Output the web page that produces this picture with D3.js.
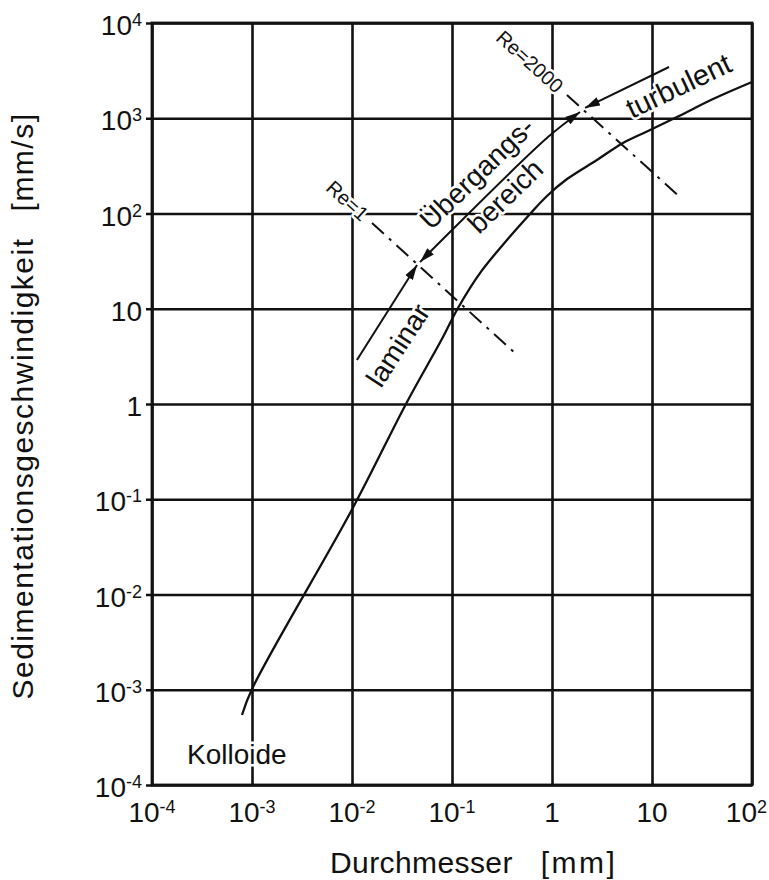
<!DOCTYPE html>
<html><head><meta charset="utf-8">
<script src="https://cdn.jsdelivr.net/npm/d3@7"></script>
<style>body{margin:0;background:#fff} svg{display:block} text{font-family:"Liberation Sans",Arial,Helvetica,sans-serif;fill:#111}</style>
</head><body>
<svg id="c" width="769" height="880"></svg>
<script>
// ---- data ----
const xTicks = [1e-4, 1e-3, 1e-2, 1e-1, 1, 10, 100];
const xTickBase = ["10", "10", "10", "10", "1", "10", "10"];
const xTickExp  = ["-4", "-3", "-2", "-1", "", "", "2"];
const yTicks = [1e-4, 1e-3, 1e-2, 1e-1, 1, 10, 100, 1e3, 1e4];
const yTickBase = ["10", "10", "10", "10", "1", "10", "10", "10", "10"];
const yTickExp  = ["-4", "-3", "-2", "-1", "", "", "2", "3", "4"];

// settling velocity curve: diameter [mm], velocity [mm/s]
const curveDiameter = [0.000794, 0.001, 0.01, 0.0355, 0.0813, 0.1148, 0.1905, 0.3548, 0.6026, 0.8913, 1.413, 2.818, 5.129, 9.12, 17.78, 40.74, 100];
const curveVelocity = [0.000543, 0.00102, 0.078, 1.05, 5.05, 10.19, 23.7, 52.7, 98.9, 152.8, 230, 365, 550, 735, 1030, 1592, 2404];

// regime arrows
const laminarDiameter = [0.0112, 0.0447];
const laminarVelocity = [2.90, 28.8];
const transDiameter = [0.0479, 0.0912, 0.912, 1.905];
const transVelocity = [30.9, 61.0, 635, 1164];
const turbDiameter = [14.8, 2.14];
const turbVelocity = [3451, 1282];

// Reynolds lines
const re1Diameter = [0.01585, 0.447];
const re1Velocity = [79.4, 3.27];
const re2000Diameter = [1.41, 19.05];
const re2000Velocity = [1754, 149];

// text annotations (anchor in data units)
const annText = ["laminar", "Übergangs-", "bereich", "turbulent", "Kolloide"];
const annDiameter = [0.0195, 0.0617, 0.186, 6.31, 0.000224];
const annVelocity = [1.44, 65.5, 59.4, 982, 0.000166];
const annAngle = [-57, -44, -44, -25.5, 0];

// ---- drawing ----
const W = 769, H = 880;
const m = {left: 152, right: 17, top: 23, bottom: 95};
const iw = W - m.left - m.right, ih = H - m.top - m.bottom;
const svg = d3.select("#c");
const g = svg.append("g").attr("transform", `translate(${m.left},${m.top})`);
const x = d3.scaleLog().domain([1e-4, 1e2]).range([0, iw]);
const y = d3.scaleLog().domain([1e-4, 1e4]).range([ih, 0]);
const ink = "#111";

// defs: arrowhead
svg.append("defs").append("marker")
  .attr("id", "ah").attr("viewBox", "0 -5 15 10").attr("refX", 15).attr("refY", 0)
  .attr("markerWidth", 15).attr("markerHeight", 10).attr("markerUnits", "userSpaceOnUse")
  .attr("orient", "auto-start-reverse")
  .append("path").attr("d", "M0,-4.5L15,0L0,4.5Z").attr("fill", ink);

// gridlines via axes
const gx = g.append("g").attr("transform", `translate(0,${ih})`)
  .call(d3.axisBottom(x).tickValues(xTicks).tickSize(-ih).tickFormat(() => ""));
gx.select(".domain").remove();
gx.selectAll("line").attr("stroke", ink).attr("stroke-width", 2.6);

const gy = g.append("g")
  .call(d3.axisLeft(y).tickValues(yTicks).tickSize(-iw).tickFormat(() => ""));
gy.select(".domain").remove();
gy.selectAll("line").attr("x1", -6).attr("stroke", ink).attr("stroke-width", 2.6);

g.append("rect").attr("width", iw).attr("height", ih)
  .attr("fill", "none").attr("stroke", ink).attr("stroke-width", 2.8);

// tick labels
const xl = g.append("g").selectAll("text").data(xTicks).join("text")
  .attr("x", d => x(d)).attr("y", ih + 37).attr("text-anchor", "middle")
  .attr("font-size", 28);
xl.append("tspan").text((d, i) => xTickBase[i]);
xl.append("tspan").attr("dy", -9).attr("font-size", 18).text((d, i) => xTickExp[i]);
xl.each(function () {
  const b = this.getBBox();
  const over = b.x + b.width - (iw + m.right - 2);
  if (over > 0) d3.select(this).attr("x", +d3.select(this).attr("x") - over);
});

const yl = g.append("g").selectAll("text").data(yTicks).join("text")
  .attr("x", -10).attr("y", d => y(d) + 12).attr("text-anchor", "end")
  .attr("font-size", 28);
yl.append("tspan").text((d, i) => yTickBase[i]);
yl.append("tspan").attr("dy", -9).attr("font-size", 18).text((d, i) => yTickExp[i]);

// axis titles
const xt = svg.append("text").attr("x", 330).attr("y", 873).attr("font-size", 30)
  .attr("letter-spacing", 0.4);
xt.append("tspan").text("Durchmesser");
xt.append("tspan").attr("dx", 28).attr("letter-spacing", 2.5).text("[mm]");

const yt = svg.append("text").attr("transform", "translate(33,406) rotate(-90)")
  .attr("text-anchor", "middle").attr("font-size", 30).attr("letter-spacing", 1.5);
yt.append("tspan").text("Sedimentationsgeschwindigkeit");
yt.append("tspan").attr("dx", 26).text("[mm/s]");

// annotations (with white halo that breaks the grid)
const halo = t => t.attr("stroke", "#fff").attr("stroke-width", 5)
  .attr("stroke-linejoin", "round").attr("paint-order", "stroke");
annText.forEach((t, i) => {
  const px = x(annDiameter[i]), py = y(annVelocity[i]);
  g.append("text").attr("x", px).attr("y", py)
    .attr("transform", `rotate(${annAngle[i]},${px},${py})`)
    .attr("font-size", i === 3 ? 29 : 28).text(t).call(halo);
});

// Reynolds lines + labels
function reLine(ds, vs, label) {
  const pts = ds.map((d, i) => [x(d), y(vs[i])]);
  g.append("path").attr("d", d3.line()(pts)).attr("fill", "none")
    .attr("stroke", ink).attr("stroke-width", 2).attr("stroke-dasharray", "16,7,3,7");
  const ang = Math.atan2(pts[1][1] - pts[0][1], pts[1][0] - pts[0][0]) * 180 / Math.PI;
  g.append("text").attr("x", pts[0][0]).attr("y", pts[0][1])
    .attr("transform", `rotate(${ang},${pts[0][0]},${pts[0][1]})`)
    .attr("text-anchor", "end").attr("dominant-baseline", "central").attr("dx", -9)
    .attr("font-size", 20).text(label).call(halo);
}
reLine(re1Diameter, re1Velocity, "Re=1");
reLine(re2000Diameter, re2000Velocity, "Re=2000");

// main curve
const line = d3.line().x(d => x(d[0])).y(d => y(d[1])).curve(d3.curveCatmullRom.alpha(0.5));
g.append("path").attr("d", line(curveDiameter.map((d, i) => [d, curveVelocity[i]])))
  .attr("fill", "none").attr("stroke", ink).attr("stroke-width", 2.3);

// arrows
const aline = d3.line().x(d => x(d[0])).y(d => y(d[1])).curve(d3.curveCatmullRom);
g.append("path").attr("d", aline(laminarDiameter.map((d, i) => [d, laminarVelocity[i]])))
  .attr("fill", "none").attr("stroke", ink).attr("stroke-width", 2).attr("marker-end", "url(#ah)");
g.append("path").attr("d", aline(transDiameter.map((d, i) => [d, transVelocity[i]])))
  .attr("fill", "none").attr("stroke", ink).attr("stroke-width", 2)
  .attr("marker-start", "url(#ah)").attr("marker-end", "url(#ah)");
g.append("path").attr("d", aline(turbDiameter.map((d, i) => [d, turbVelocity[i]])))
  .attr("fill", "none").attr("stroke", ink).attr("stroke-width", 2).attr("marker-end", "url(#ah)");
</script>
</body></html>
